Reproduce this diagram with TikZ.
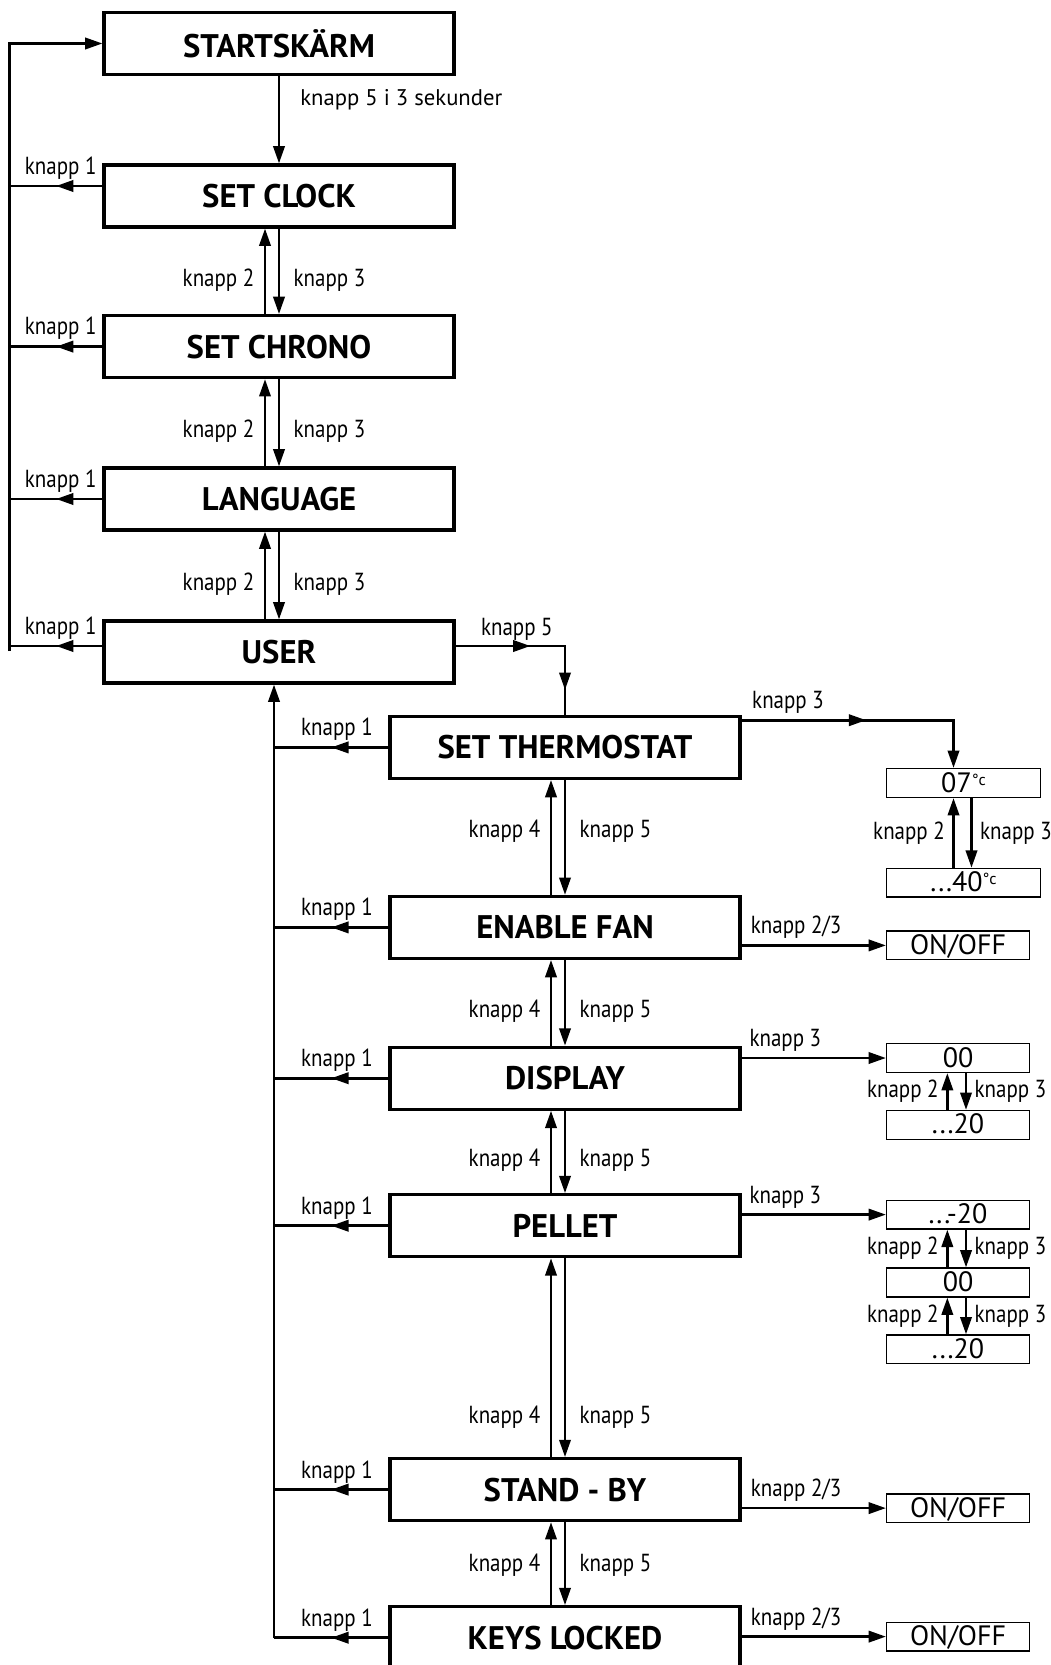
\documentclass[tikz,border=0pt]{standalone}
\usepackage{fontspec}
\setmainfont{PT Sans}
\newfontfamily\knappfont[FakeStretch=0.85]{PT Sans}
\usetikzlibrary{arrows.meta,decorations.markings}

\begin{document}
\begin{tikzpicture}[x=0.75pt, y=-0.75pt,
      box/.style={draw, line width=2.3pt, minimum width=262.5pt, minimum height=46.5pt, inner sep=0pt, font=\fontsize{24.5}{28}\selectfont\bfseries},
      val/.style={draw, line width=1.1pt, minimum width=107pt, minimum height=21.5pt, inner sep=0pt, text height=14.5pt, text depth=1pt, font=\fontsize{21}{24}\selectfont},
      ln/.style={line width=2pt},
      ar/.style={ln, -{Triangle[length=13pt, width=8.5pt]}},
      midar/.style={postaction={decorate, decoration={markings, mark=at position #1 with {\arrow{Triangle[length=13pt, width=8.5pt]}}}}},
      lbl/.style={font=\knappfont\fontsize{18.5}{21}\selectfont, inner sep=1pt}]
    \useasboundingbox (0,0) rectangle (1050,1665);
    % main menu
    \node[box] (start) at (279,43.5) {STARTSKÄRM};
    \node[box] (clock) at (279,196) {SET CLOCK};
    \node[box] (chrono) at (279,346.6) {SET CHRONO};
    \node[box] (lang) at (279,499) {LANGUAGE};
    \node[box] (user) at (279,652) {USER};
    % user menu
    \node[box] (therm) at (565,747.4) {SET THERMOSTAT};
    \node[box] (fan) at (565,927.4) {ENABLE FAN};
    \node[box] (disp) at (565,1078.2) {DISPLAY};
    \node[box] (pellet) at (565,1225.7) {PELLET};
    \node[box] (standby) at (565,1489.6) {STAND - BY};
    \node[box] (keys) at (565,1637.7) {KEYS LOCKED};
    % values
    \node[val, minimum width=115.5pt] (t07) at (963.5,783) {07\raisebox{0.5ex}{\fontsize{12}{12}\selectfont°c}};
    \node[val, minimum width=115.5pt] (t40) at (963.5,882.8) {...40\raisebox{0.5ex}{\fontsize{12}{12}\selectfont°c}};
    \node[val] (on1) at (958,945.4) {ON/OFF};
    \node[val] (d00) at (958,1058) {00};
    \node[val] (d20) at (958,1124.9) {...20};
    \node[val] (pm20) at (958,1214.6) {...-20};
    \node[val] (p00) at (958,1282.5) {00};
    \node[val] (p20) at (958,1349.4) {...20};
    \node[val] (on2) at (958,1508.1) {ON/OFF};
    \node[val] (on3) at (958,1636.6) {ON/OFF};

    \draw[ar] (start) -- node[lbl, font=\fontsize{17}{20}\selectfont, anchor=west, pos=0.27, xshift=14pt] {knapp 5 i 3 sekunder} (clock);
    \foreach \a/\b in {clock/chrono, chrono/lang, lang/user} {
      \draw[ar] ([xshift=-10.5pt]\b.north) -- node[lbl, left=6pt, pos=0.4] {knapp 2} ([xshift=-10.5pt]\a.south);
      \draw[ar] (\a.south) -- node[lbl, right=9pt, pos=0.6] {knapp 3} (\b.north);
    }
    % back to start screen
    \coordinate (lbot) at (9.6,651);
    \draw[ar] (lbot) |- (start.west);
    \foreach \n/\s in {clock/7.5, chrono/0, lang/0, user/4.5}
      \draw[ln, midar=0.5] ([yshift=\s pt]\n.west) -- node[lbl, above=3pt, pos=0.45] {knapp 1} ([yshift=\s pt]\n.west -| lbot);

    \draw[ln, midar=0.42, midar=0.86] ([yshift=4.5pt]user.east) -| node[lbl, above=2pt, pos=0.28] {knapp 5} (therm.north);
    \foreach \a/\b/\p in {therm/fan/0.45, fan/disp/0.6, disp/pellet/0.6, pellet/standby/0.8, standby/keys/0.52} {
      \draw[ar] ([xshift=-10.5pt]\b.north) -- node[lbl, left=6pt, pos=1-\p] {knapp 4} ([xshift=-10.5pt]\a.south);
      \draw[ar] (\a.south) -- node[lbl, right=9pt, pos=\p] {knapp 5} (\b.north);
    }
    % back to user
    \coordinate (rbot) at (274,1638);
    \draw[ar] (rbot) -- (rbot |- user.south);
    \foreach \n in {therm, fan, disp, pellet, standby, keys}
      \draw[ln, midar=0.5] (\n.west) -- node[lbl, above=3pt, pos=0.45] {knapp 1} (\n.west -| rbot);

    % values
    \draw[ar, midar=0.48] ([yshift=-4pt]therm.north east) -| node[lbl, anchor=south west, pos=0, xshift=6pt, yshift=3pt] {knapp 3} ([xshift=-7.5pt]t07.north);
    \foreach \n/\v in {fan/on1, standby/on2, keys/on3}
      \draw[ar] (\n.east |- \v) -- node[lbl, anchor=south west, pos=0, xshift=5pt, yshift=3pt] {knapp 2/3} (\v);
    \foreach \n/\v in {disp/d00, pellet/pm20}
      \draw[ar] (\n.east |- \v) -- node[lbl, anchor=south west, pos=0, xshift=4pt, yshift=3pt] {knapp 3} (\v);
    \foreach \a/\b/\x in {t07/t40/7.5, d00/d20/8, pm20/p00/8, p00/p20/8} {
      \draw[ar] ([xshift=-\x pt]\b.north) -- node[lbl, left=4.5pt] {knapp 2} ([xshift=-\x pt]\a.south);
      \draw[ar] ([xshift=6pt]\a.south) -- node[lbl, right=4.5pt] {knapp 3} ([xshift=6pt]\b.north);
    }
  \end{tikzpicture}
\end{document}
